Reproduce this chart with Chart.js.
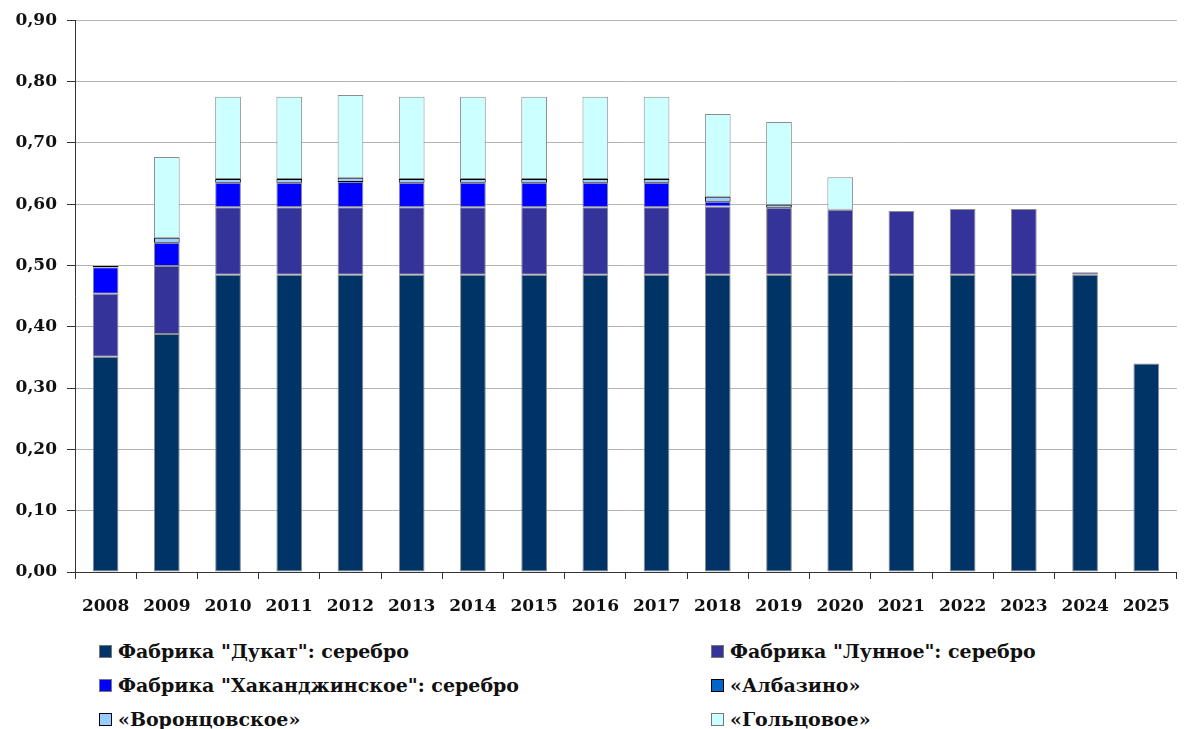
<!DOCTYPE html>
<html>
<head>
<meta charset="utf-8">
<script src="https://cdn.jsdelivr.net/npm/chart.js@4"></script>
<style>
  body { margin: 0; background: #fff; }
  #wrap { position: relative; width: 1187px; height: 625px; }
  #legende {
    position: absolute; left: 99px; top: 635px; width: 1080px;
    display: grid; grid-template-columns: 612px 400px; row-gap: 2px;
  }
  .item {
    display: flex; align-items: center; height: 32px;
    font-family: 'DejaVu Serif', serif;
    font-weight: 700; font-size: 19px; color: #111;
  }
  .carre { width: 11px; height: 11px; margin-right: 6px; border: 1px solid #777; flex: none; }
</style>
</head>
<body>
<div id="wrap"><canvas id="graphique"></canvas></div>
<div id="legende"></div>
<script>
// Données
const annees = ['2008','2009','2010','2011','2012','2013','2014','2015','2016','2017','2018','2019','2020','2021','2022','2023','2024','2025'];
const dukat =      [0.351, 0.388, 0.485, 0.485, 0.485, 0.485, 0.485, 0.485, 0.485, 0.485, 0.485, 0.485, 0.485, 0.485, 0.485, 0.485, 0.485, 0.340];
const lunnoe =     [0.103, 0.111, 0.110, 0.110, 0.110, 0.110, 0.110, 0.110, 0.110, 0.110, 0.111, 0.109, 0.106, 0.104, 0.107, 0.107, 0.004, null];
const khakanja =   [0.043, 0.038, 0.040, 0.040, 0.041, 0.040, 0.040, 0.040, 0.040, 0.040, 0.008, null, null, null, null, null, null, null];
const albazino =   [0.002, null, null, null, null, null, null, null, null, null, null, null, null, null, null, null, null, null];
const vorontsov =  [null, 0.008, 0.006, 0.006, 0.007, 0.006, 0.006, 0.006, 0.006, 0.006, 0.008, 0.005, null, null, null, null, null, null];
const goltsovoe =  [null, 0.132, 0.134, 0.134, 0.135, 0.134, 0.134, 0.134, 0.134, 0.134, 0.135, 0.135, 0.053, null, null, null, null, null];
const graduations = [0, 0.1, 0.2, 0.3, 0.4, 0.5, 0.6, 0.7, 0.8, 0.9];

const series = [
  { label: 'Фабрика "Дукат": серебро', data: dukat, couleur: '#003366', bord: '#8c8c8c' },
  { label: 'Фабрика "Лунное": серебро', data: lunnoe, couleur: '#333399', bord: '#8c8c8c' },
  { label: 'Фабрика "Хаканджинское": серебро', data: khakanja, couleur: '#0000FF', bord: '#8c8c8c' },
  { label: '«Албазино»', data: albazino, couleur: '#0066CC', bord: '#000000' },
  { label: '«Воронцовское»', data: vorontsov, couleur: '#99CCFF', bord: '#000000' },
  { label: '«Гольцовое»', data: goltsovoe, couleur: '#CCFFFF', bord: '#8c8c8c' }
];

const policeAxe = { family: '"DejaVu Serif", serif', weight: 'bold', size: 17 };

let ctx = document.getElementById('graphique').getContext('2d');
let graphique = new Chart(ctx, {
  type: 'bar',
  data: {
    labels: annees,
    datasets: series.map(s => ({
      label: s.label,
      data: s.data,
      backgroundColor: s.couleur,
      borderColor: s.bord,
      borderWidth: 1,
      borderSkipped: false,
      barPercentage: 0.42,
      categoryPercentage: 1
    }))
  },
  options: {
    responsive: true,
    maintainAspectRatio: false,
    animation: false,
    layout: { padding: { top: 16, right: 2, left: 0, bottom: 0 } },
    plugins: { legend: { display: false }, tooltip: { enabled: false } },
    scales: {
      x: {
        stacked: true,
        grid: { drawOnChartArea: false, drawTicks: true, tickLength: 7, color: '#333', offset: true },
        border: { color: '#333', width: 1 },
        ticks: { color: '#111', font: policeAxe, padding: 17, maxRotation: 0, autoSkip: false },
        afterFit: s => { s.height = 53; }
      },
      y: {
        stacked: true,
        min: 0, max: 0.9,
        afterBuildTicks: s => { s.ticks = graduations.map(v => ({ value: v })); },
        grid: { color: '#b4b4b4', tickLength: 8, tickColor: '#333' },
        border: { color: '#333', width: 1 },
        ticks: {
          color: '#111', font: policeAxe, padding: 10,
          callback: v => v.toFixed(2).replace('.', ',')
        },
        afterFit: s => { s.width = 75; }
      }
    }
  }
});

// Légende en deux colonnes
const legende = document.getElementById('legende');
series.forEach(s => {
  const div = document.createElement('div');
  div.className = 'item';
  div.innerHTML = `<span class="carre" style="background:${s.couleur};border-color:${s.bord === '#000000' ? '#000' : '#777'}"></span>${s.label}`;
  legende.appendChild(div);
});
</script>
</body>
</html>
